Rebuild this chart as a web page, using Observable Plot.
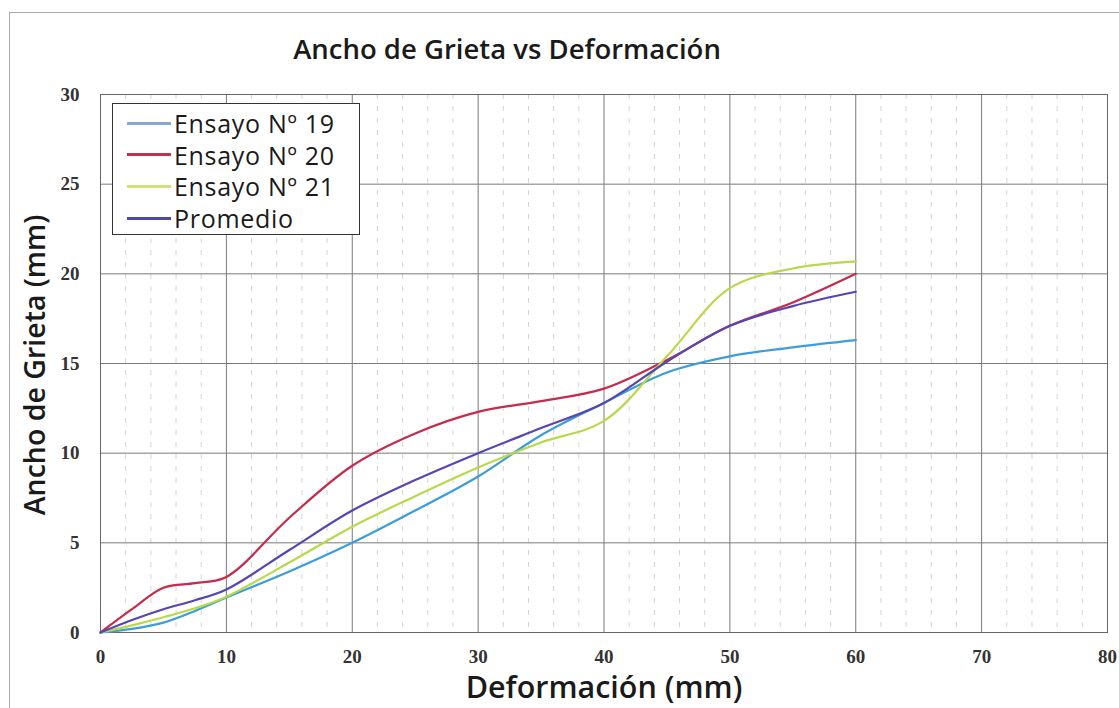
<!DOCTYPE html>
<html><head><meta charset="utf-8">
<script src="https://cdn.jsdelivr.net/npm/d3@7"></script>
<script src="https://cdn.jsdelivr.net/npm/@observablehq/plot@0.6"></script>
<style>
body{margin:0;background:#fff;}
#wrap{position:relative;width:1119px;height:708px;overflow:hidden;background:#fff;}
#wrap svg{position:absolute;left:0;top:0;}
.t{position:absolute;font-family:"Open Sans",sans-serif;color:#1a1a1a;white-space:nowrap;line-height:1;}
#title{left:0;width:1014px;text-align:center;top:35px;font-size:27.5px;font-weight:600;}
#xt{left:0;width:1208px;text-align:center;top:671px;font-size:30.5px;font-weight:600;}
#yt{left:34px;top:365px;font-size:28.5px;font-weight:600;transform:translate(-50%,-50%) rotate(-90deg);}
#legend{position:absolute;left:112px;top:103px;width:248px;height:132px;border:1.5px solid #333;background:#fff;box-sizing:border-box;font-family:"Open Sans",sans-serif;font-size:25px;letter-spacing:0.7px;color:#1a1a1a;}
.li{position:absolute;left:14px;height:30px;display:flex;align-items:center;white-space:nowrap;}
.li span.sw{display:inline-block;width:44px;height:3px;margin-right:3px;}
#border{position:absolute;left:9px;top:12px;width:1120px;height:710px;border:1px solid #aaa;box-sizing:border-box;pointer-events:none;}
</style></head>
<body>
<div id="wrap">
<div id="border"></div>
<div class="t" id="title">Ancho de Grieta vs Deformación</div>
<div class="t" id="xt">Deformación (mm)</div>
<div class="t" id="yt">Ancho de Grieta (mm)</div>
</div>
<script>
// Deformación (mm)
const deformacion = [0, 2.5, 5, 7.5, 10, 15, 20, 25, 30, 35, 40, 45, 50, 55, 60];
// Ancho de grieta (mm) por ensayo
const ensayo19 = [0, 0.2, 0.55, 1.2, 1.95, 3.4, 5.0, 6.8, 8.7, 11.0, 12.8, 14.5, 15.4, 15.9, 16.3];
const ensayo20 = [0, 1.3, 2.5, 2.75, 3.1, 6.4, 9.3, 11.1, 12.3, 12.9, 13.6, 15.2, 17.1, 18.4, 20.0];
const ensayo21 = [0, 0.4, 0.85, 1.35, 2.0, 3.9, 5.9, 7.6, 9.2, 10.6, 11.8, 15.4, 19.2, 20.3, 20.7];
const promedio = [0, 0.7, 1.3, 1.8, 2.4, 4.6, 6.8, 8.5, 10.0, 11.4, 12.8, 15.1, 17.1, 18.2, 19.0];
const seriesNames = ["Ensayo Nº 19", "Ensayo Nº 20", "Ensayo Nº 21", "Promedio"];
const seriesColors = ["#3d9ddb", "#c62a4c", "#b9d84a", "#5646b3"];
const legendColors = ["#86a6d8", "#c0304f", "#d2e27a", "#4e4aa0"];
const xTicks = [0, 10, 20, 30, 40, 50, 60, 70, 80];
const yTicks = [0, 5, 10, 15, 20, 25, 30];
const xMinor = d3.range(0, 81, 2);

const valuesBySeries = [ensayo19, ensayo20, ensayo21, promedio];
const rows = [];
valuesBySeries.forEach((vals, i) => {
  vals.forEach((v, j) => rows.push({serie: seriesNames[i], x: deformacion[j], y: v}));
});

const chart = Plot.plot({
  width: 1119,
  height: 708,
  marginLeft: 100,
  marginRight: 12,
  marginTop: 94,
  marginBottom: 76,
  x: {domain: [0, 80], label: null},
  y: {domain: [0, 30], label: null},
  color: {domain: seriesNames, range: seriesColors},
  style: {fontFamily: "'Liberation Serif', serif", fontSize: "19px", color: "#222", background: "transparent"},
  marks: [
    Plot.ruleX(xMinor.filter(d => d % 10 !== 0), {stroke: "#d4d4d4", strokeDasharray: "5,7", strokeWidth: 1}),
    Plot.gridX(xTicks, {stroke: "#7a7a7a", strokeOpacity: 1, strokeWidth: 1}),
    Plot.gridY(yTicks, {stroke: "#7a7a7a", strokeOpacity: 1, strokeWidth: 1}),
    Plot.frame({stroke: "#666"}),
    Plot.axisX(xTicks, {tickSize: 0, tickPadding: 17, fontWeight: "bold", fill: "#333"}),
    Plot.axisY(yTicks, {tickSize: 0, tickPadding: 21, fontWeight: "bold", fill: "#333"}),
    Plot.line(rows, {x: "x", y: "y", z: "serie", stroke: "serie", strokeWidth: 2.2, curve: "catmull-rom"})
  ]
});
document.getElementById("wrap").appendChild(chart);

const leg = document.createElement("div");
leg.id = "legend";
seriesNames.forEach((n, i) => {
  const it = document.createElement("div");
  it.className = "li";
  it.style.top = (4 + i * 31.7) + "px";
  it.innerHTML = `<span class="sw" style="background:${legendColors[i]}"></span>${n}`;
  leg.appendChild(it);
});
document.getElementById("wrap").appendChild(leg);
</script>
</body></html>
